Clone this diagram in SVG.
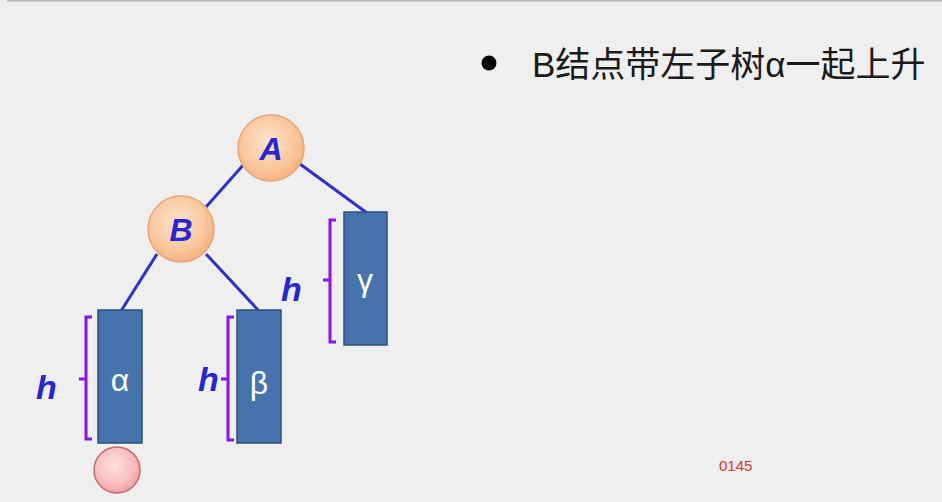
<svg xmlns="http://www.w3.org/2000/svg" width="942" height="502" viewBox="0 0 942 502">
<defs>
<radialGradient id="og" cx="0.45" cy="0.4" r="0.65">
<stop offset="0" stop-color="#fde3cc"/>
<stop offset="0.6" stop-color="#fac9a0"/>
<stop offset="1" stop-color="#f4ad78"/>
</radialGradient>
<radialGradient id="rg" cx="0.45" cy="0.4" r="0.65">
<stop offset="0" stop-color="#fde0e0"/>
<stop offset="0.6" stop-color="#f8c0c0"/>
<stop offset="1" stop-color="#f09a9a"/>
</radialGradient>
<style>
.node{fill:url(#og);stroke:#e6a678;stroke-width:1.5}
.nl{font-family:"Liberation Sans",Arial,sans-serif;font-weight:bold;font-style:italic;font-size:32px;fill:#2626d6;text-anchor:middle}
.edge{stroke:#2f2fd8;stroke-width:3;fill:none}
.sub{fill:#4673ab;stroke:#2e5080;stroke-width:1.5}
.gl{font-family:"Liberation Sans",Arial,sans-serif;font-size:32px;fill:#ffffff;text-anchor:middle}
.br{stroke:#8a12f0;stroke-width:3;fill:none}
.h{font-family:"Liberation Sans",Arial,sans-serif;font-weight:bold;font-style:italic;font-size:34px;fill:#2626d6}
</style>
</defs>
<rect width="942" height="502" fill="#efefef"/>
<line x1="7" y1="0.5" x2="942" y2="0.5" stroke="#b8b8b8" stroke-width="2"/>
<g id="connectors">
<line class="edge" x1="245" y1="163" x2="206" y2="207"/>
<line class="edge" x1="300" y1="164" x2="367" y2="213"/>
<line class="edge" x1="157" y1="254" x2="121" y2="311"/>
<line class="edge" x1="206" y1="254" x2="259" y2="311"/>
</g>
<g id="nodeA">
<circle class="node" cx="271" cy="148" r="33"/>
<text class="nl" x="271" y="160">A</text>
</g>
<g id="nodeB">
<circle class="node" cx="181" cy="229" r="33"/>
<text class="nl" x="181" y="241">B</text>
</g>
<g id="alpha">
<rect class="sub" x="98" y="310" width="44" height="133"/>
<text class="gl" x="120" y="391">α</text>
<path class="br" d="M92,317 H86 V439 H92 M86,379 H79"/>
<text class="h" x="36" y="399">h</text>
</g>
<g id="beta">
<rect class="sub" x="237" y="310" width="44" height="133"/>
<text class="gl" x="259" y="394">β</text>
<path class="br" d="M234,317 H228 V440 H234 M228,379 H221"/>
<text class="h" x="198" y="391">h</text>
</g>
<g id="gamma">
<rect class="sub" x="344" y="212" width="43" height="133"/>
<text class="gl" x="365" y="291">γ</text>
<path class="br" d="M336,220 H330 V342 H336 M330,280 H323"/>
<text class="h" x="281" y="301">h</text>
</g>
<g id="newnode">
<circle cx="117" cy="470" r="23" fill="url(#rg)" stroke="#c86a6a" stroke-width="1.5"/>
</g>
<g id="caption">
<circle cx="489" cy="63" r="7.5" fill="#000"/>
<text x="532" y="77" font-family="'Liberation Sans','Noto Sans CJK SC',sans-serif" font-size="35" fill="#1a1a1a">B结点带左子树α一起上升</text>
</g>
<text x="719" y="471" font-family="'Liberation Sans',Arial,sans-serif" font-size="15" fill="#e83030">0145</text>
</svg>
